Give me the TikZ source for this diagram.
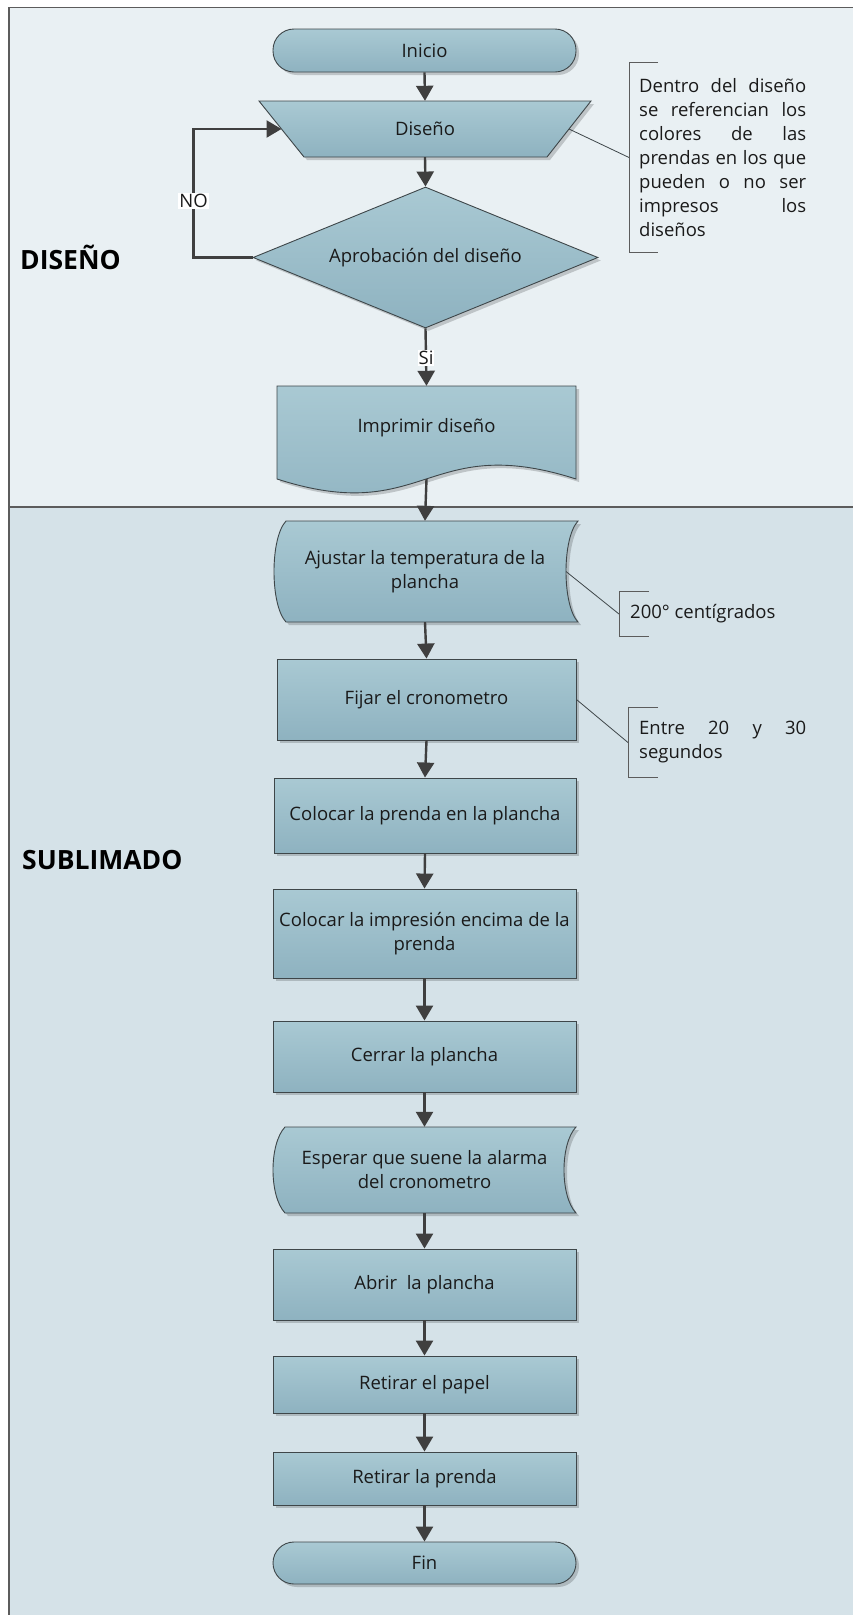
\documentclass[tikz,border=0pt]{standalone}
\usepackage{fontspec}
\setmainfont{Open Sans}
\usetikzlibrary{arrows.meta,shapes.geometric,shadows}

\definecolor{laneA}{HTML}{E9F0F3}
\definecolor{laneB}{HTML}{D5E2E8}
\definecolor{fillTop}{HTML}{A9C9D3}
\definecolor{fillBot}{HTML}{8EB2C0}
\definecolor{edge}{HTML}{3E4649}
\definecolor{arrowc}{HTML}{3F3F3F}
\definecolor{frame}{HTML}{5C5C5C}
\definecolor{ink}{HTML}{1A1A1A}

\tikzset{
  txt/.style={font=\fontsize{18.5}{24}\selectfont, text=ink, align=center},
  boxfill/.style={top color=fillTop, bottom color=fillBot, draw=edge, line width=0.9pt,
    drop shadow={shadow xshift=3pt, shadow yshift=-3pt, fill=black, opacity=0.18}},
  proc/.style={txt, boxfill, rectangle, minimum width=303, inner sep=2pt},
  term/.style={proc, rounded corners=21pt},
  decision/.style={txt, boxfill, diamond, aspect=2.45, minimum width=345, minimum height=141, inner sep=0pt},
  holder/.style={txt, rectangle, inner sep=0pt, draw=none},
  flow/.style={draw=arrowc, line width=2.4pt, -{Triangle[width=17pt,length=15pt]}},
  lbl/.style={font=\fontsize{18.5}{22}\selectfont, fill=white, inner sep=1pt, text=ink},
  leader/.style={draw=edge, line width=0.8pt},
  bracket/.style={draw=frame, line width=1pt},
  note/.style={txt, align=left, anchor=west, inner ysep=0pt},
  lanetitle/.style={font=\fontsize{26.5}{30}\selectfont\bfseries, text=black, anchor=west, inner sep=0pt}
}
% a line of a note, spread over the full note width
\newcommand{\spreadline}[1]{\makebox[167pt][l]{#1}}

\begin{document}
\begin{tikzpicture}[x=1pt,y=-1pt]
\useasboundingbox (0,0) rectangle (853,1615);

% swimlanes
\fill[laneA] (9,7) rectangle (853,507);
\fill[laneB] (9,507) rectangle (853,1615);
\draw[frame, line width=1.5pt] (853,7.5) -- (9,7.5) -- (9,1615);
\draw[frame, line width=1.2pt] (9,507) -- (853,507);
\node[lanetitle] (laneDis) at (20,257) {DISEÑO};
\node[lanetitle] (laneSub) at (22,860) {SUBLIMADO};

% manual operation: Diseño
\path[boxfill] (259,101) -- (591,101) -- (547,157) -- (304,157) -- cycle;
\node[holder, minimum width=332, minimum height=56] (dis) at (425,129) {Diseño};
\coordinate (disL) at (281.5,129);
\coordinate (disR) at (569,129);

% document: Imprimir diseño
\path[boxfill] (277,386) -- (576,386) -- (576,479)
  .. controls (426,431) and (426,527) .. (277,479) -- cycle;
\node[holder, minimum width=299, minimum height=93, text height=40pt, text depth=40pt]
  (imp) at (426.5,432.5) {Imprimir diseño};

% stored data: Ajustar la temperatura
\path[boxfill] (286,521) -- (578,521) .. controls (562,538) and (562,605) .. (578,622)
  -- (286,622) .. controls (270,605) and (270,538) .. (286,521) -- cycle;
\node[holder, minimum width=304, minimum height=101] (aju) at (425,571.5)
  {Ajustar la temperatura de la\\plancha};
\coordinate (ajuR) at (566,571.5);

% stored data: Esperar la alarma
\path[boxfill] (285,1127) -- (576,1127) .. controls (560,1144) and (560,1196) .. (576,1213)
  -- (285,1213) .. controls (269,1196) and (269,1144) .. (285,1127) -- cycle;
\node[holder, minimum width=303, minimum height=86] (esp) at (424.5,1170)
  {Esperar que suene la alarma\\del cronometro};

% terminals, processes and the decision
\node[term, minimum height=43] (ini) at (424.5,50.5) {Inicio};
\node[decision] (apr) at (425.5,257.5) {Aprobación del diseño};
\node[proc, minimum width=299, minimum height=81] (fij) at (426.5,699.5) {Fijar el cronometro};
\node[proc, minimum width=302, minimum height=75] (col) at (425,815.5) {Colocar la prenda en la plancha};
\node[proc, minimum height=89] (cim) at (424.5,933.5) {Colocar la impresión encima de la\\prenda};
\node[proc, minimum height=71] (cer) at (424.5,1056.5) {Cerrar la plancha};
\node[proc, minimum height=71] (abr) at (424.5,1284.5) {Abrir~ la plancha};
\node[proc, minimum height=57] (rpa) at (424.5,1384.5) {Retirar el papel};
\node[proc, minimum height=53] (rpr) at (424.5,1478.5) {Retirar la prenda};
\node[term, minimum height=42] (fin) at (424.5,1563) {Fin};

% connectors
\draw[flow] (ini.south) -- (dis.north);
\draw[flow] (dis.south) -- (apr.north);
\draw[flow] (apr.west) -- ++(-59,0) |- node[lbl, pos=0.22] (lno) {NO} (disL);
\draw[flow] (apr.south) -- node[lbl, pos=0.52] (lsi) {Si} (imp.north);
\draw[flow] (imp.south) -- (aju.north);
\draw[flow] (aju.south) -- (fij.north);
\draw[flow] (fij.south) -- (col.north);
\draw[flow] (col.south) -- (cim.north);
\draw[flow] (cim.south) -- (cer.north);
\draw[flow] (cer.south) -- (esp.north);
\draw[flow] (esp.south) -- (abr.north);
\draw[flow] (abr.south) -- (rpa.north);
\draw[flow] (rpa.south) -- (rpr.north);
\draw[flow] (rpr.south) -- (fin.north);

% annotations
\node[note, text width=167, inner xsep=10, minimum height=189] (n1) at (629,157.5)
  {\spreadline{Dentro\hfill del\hfill diseño}\\
   \spreadline{se\hfill referencian\hfill los}\\
   \spreadline{colores\hfill de\hfill las}\\
   \spreadline{prendas\hfill en\hfill los\hfill que}\\
   \spreadline{pueden\hfill o\hfill no\hfill ser}\\
   \spreadline{impresos\hfill los}\\
   diseños};
\draw[leader] (disR) -- (n1.west);
\draw[bracket] ([xshift=29pt]n1.north west) -- (n1.north west) -- (n1.south west) -- ([xshift=29pt]n1.south west);

\node[note, inner xsep=11, minimum height=44] (n2) at (619,614) {200° centígrados};
\draw[leader] (ajuR) -- (n2.west);
\draw[bracket] ([xshift=30pt]n2.north west) -- (n2.north west) -- (n2.south west) -- ([xshift=30pt]n2.south west);

\node[note, text width=167, inner xsep=11, minimum height=69] (n3) at (628,742.5)
  {\spreadline{Entre\hfill 20\hfill y\hfill 30}\\segundos};
\draw[leader] (fij.east) -- (n3.west);
\draw[bracket] ([xshift=30pt]n3.north west) -- (n3.north west) -- (n3.south west) -- ([xshift=30pt]n3.south west);
\end{tikzpicture}
\end{document}
